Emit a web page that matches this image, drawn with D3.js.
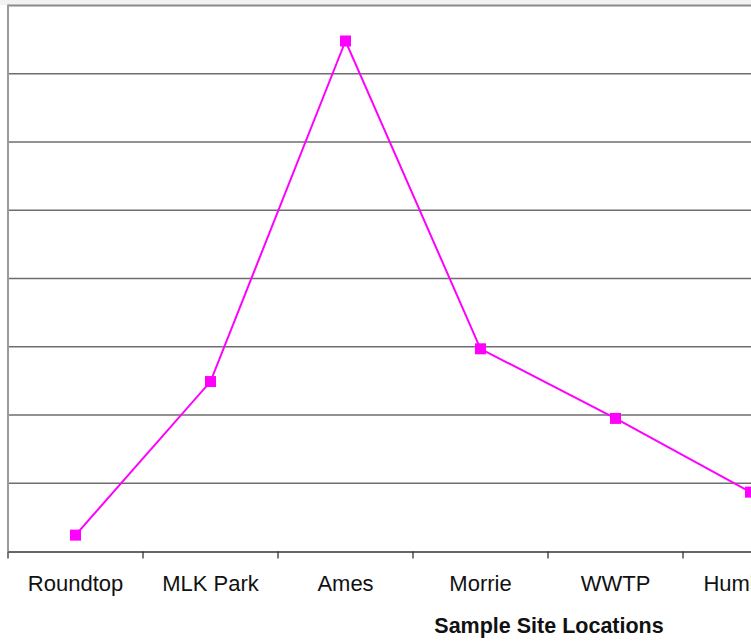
<!DOCTYPE html>
<html>
<head>
<meta charset="utf-8">
<script src="https://cdn.jsdelivr.net/npm/d3@7"></script>
<style>
  html, body { margin: 0; padding: 0; background: #ffffff; }
  svg { display: block; font-family: Arial, "Liberation Sans", sans-serif; }
</style>
</head>
<body>
<svg id="chart" width="751" height="643"></svg>
<script>
// Sample sites along the x axis
const sites = ["Roundtop", "MLK Park", "Ames", "Morrie", "WWTP", "Humboldt"];
// Measured value at each site (same order as sites)
const values = [0.24, 2.49, 7.48, 2.97, 1.95, 0.87];
// Horizontal gridline positions
const gridTicks = [1, 2, 3, 4, 5, 6, 7, 8];
const xTitle = "Sample Site Locations";

const svg = d3.select("#chart");
const W = 751, H = 643;

const plot = { left: 8, top: 5.5, bottom: 551.5, band: 135 };
const plotRight = plot.left + plot.band * sites.length;

const x = d3.scaleBand()
  .domain(sites)
  .range([plot.left, plotRight])
  .paddingInner(0).paddingOuter(0);

const y = d3.scaleLinear()
  .domain([0, 8])
  .range([plot.bottom, plot.top]);

// faint band above the plot frame
svg.append("rect").attr("x", 0).attr("y", 0).attr("width", W).attr("height", 5)
  .attr("fill", "#f2f2f2");

// gridlines
const grid = svg.append("g");
grid.selectAll("line")
  .data(gridTicks)
  .join("line")
  .attr("x1", plot.left).attr("x2", plotRight)
  .attr("y1", d => y(d)).attr("y2", d => y(d))
  .attr("stroke", d => d === 8 ? "#8a8a8a" : "#6e6e6e")
  .attr("stroke-width", d => d === 8 ? 2 : 1.3);

// left frame edge
svg.append("line")
  .attr("x1", plot.left).attr("x2", plot.left)
  .attr("y1", plot.top - 1).attr("y2", plot.bottom)
  .attr("stroke", "#9a9a9a").attr("stroke-width", 2);

// category axis
const xAxis = d3.axisBottom(x)
  .tickSize(0)
  .tickPadding(24);
const gx = svg.append("g")
  .attr("transform", `translate(0,${plot.bottom})`)
  .call(xAxis);
gx.select(".domain").attr("stroke", "#333").attr("stroke-width", 1.5);
gx.selectAll(".tick text")
  .attr("font-size", 22)
  .attr("fill", "#111")
  .attr("font-family", "Arial, 'Liberation Sans', sans-serif");

// tick marks at category boundaries
const boundaries = sites.map(s => x(s)).concat([plotRight]);
svg.append("g").selectAll("line")
  .data(boundaries)
  .join("line")
  .attr("x1", d => d).attr("x2", d => d)
  .attr("y1", plot.bottom).attr("y2", plot.bottom + 7)
  .attr("stroke", "#333").attr("stroke-width", 1.3);

// axis title
svg.append("text")
  .attr("x", 549).attr("y", 633)
  .attr("text-anchor", "middle")
  .attr("font-size", 21.5).attr("font-weight", "bold")
  .attr("fill", "#111")
  .text(xTitle);

// series line
const data = sites.map((s, i) => ({ site: s, value: values[i] }));
const cx = d => x(d.site) + x.bandwidth() / 2;

svg.append("path")
  .datum(data)
  .attr("fill", "none")
  .attr("stroke", "#ff00ff")
  .attr("stroke-width", 2)
  .attr("d", d3.line().x(cx).y(d => y(d.value)));

// square markers
const m = 11;
svg.append("g").selectAll("rect")
  .data(data)
  .join("rect")
  .attr("x", d => cx(d) - m / 2)
  .attr("y", d => y(d.value) - m / 2)
  .attr("width", m).attr("height", m)
  .attr("fill", "#ff00ff");
</script>
</body>
</html>
